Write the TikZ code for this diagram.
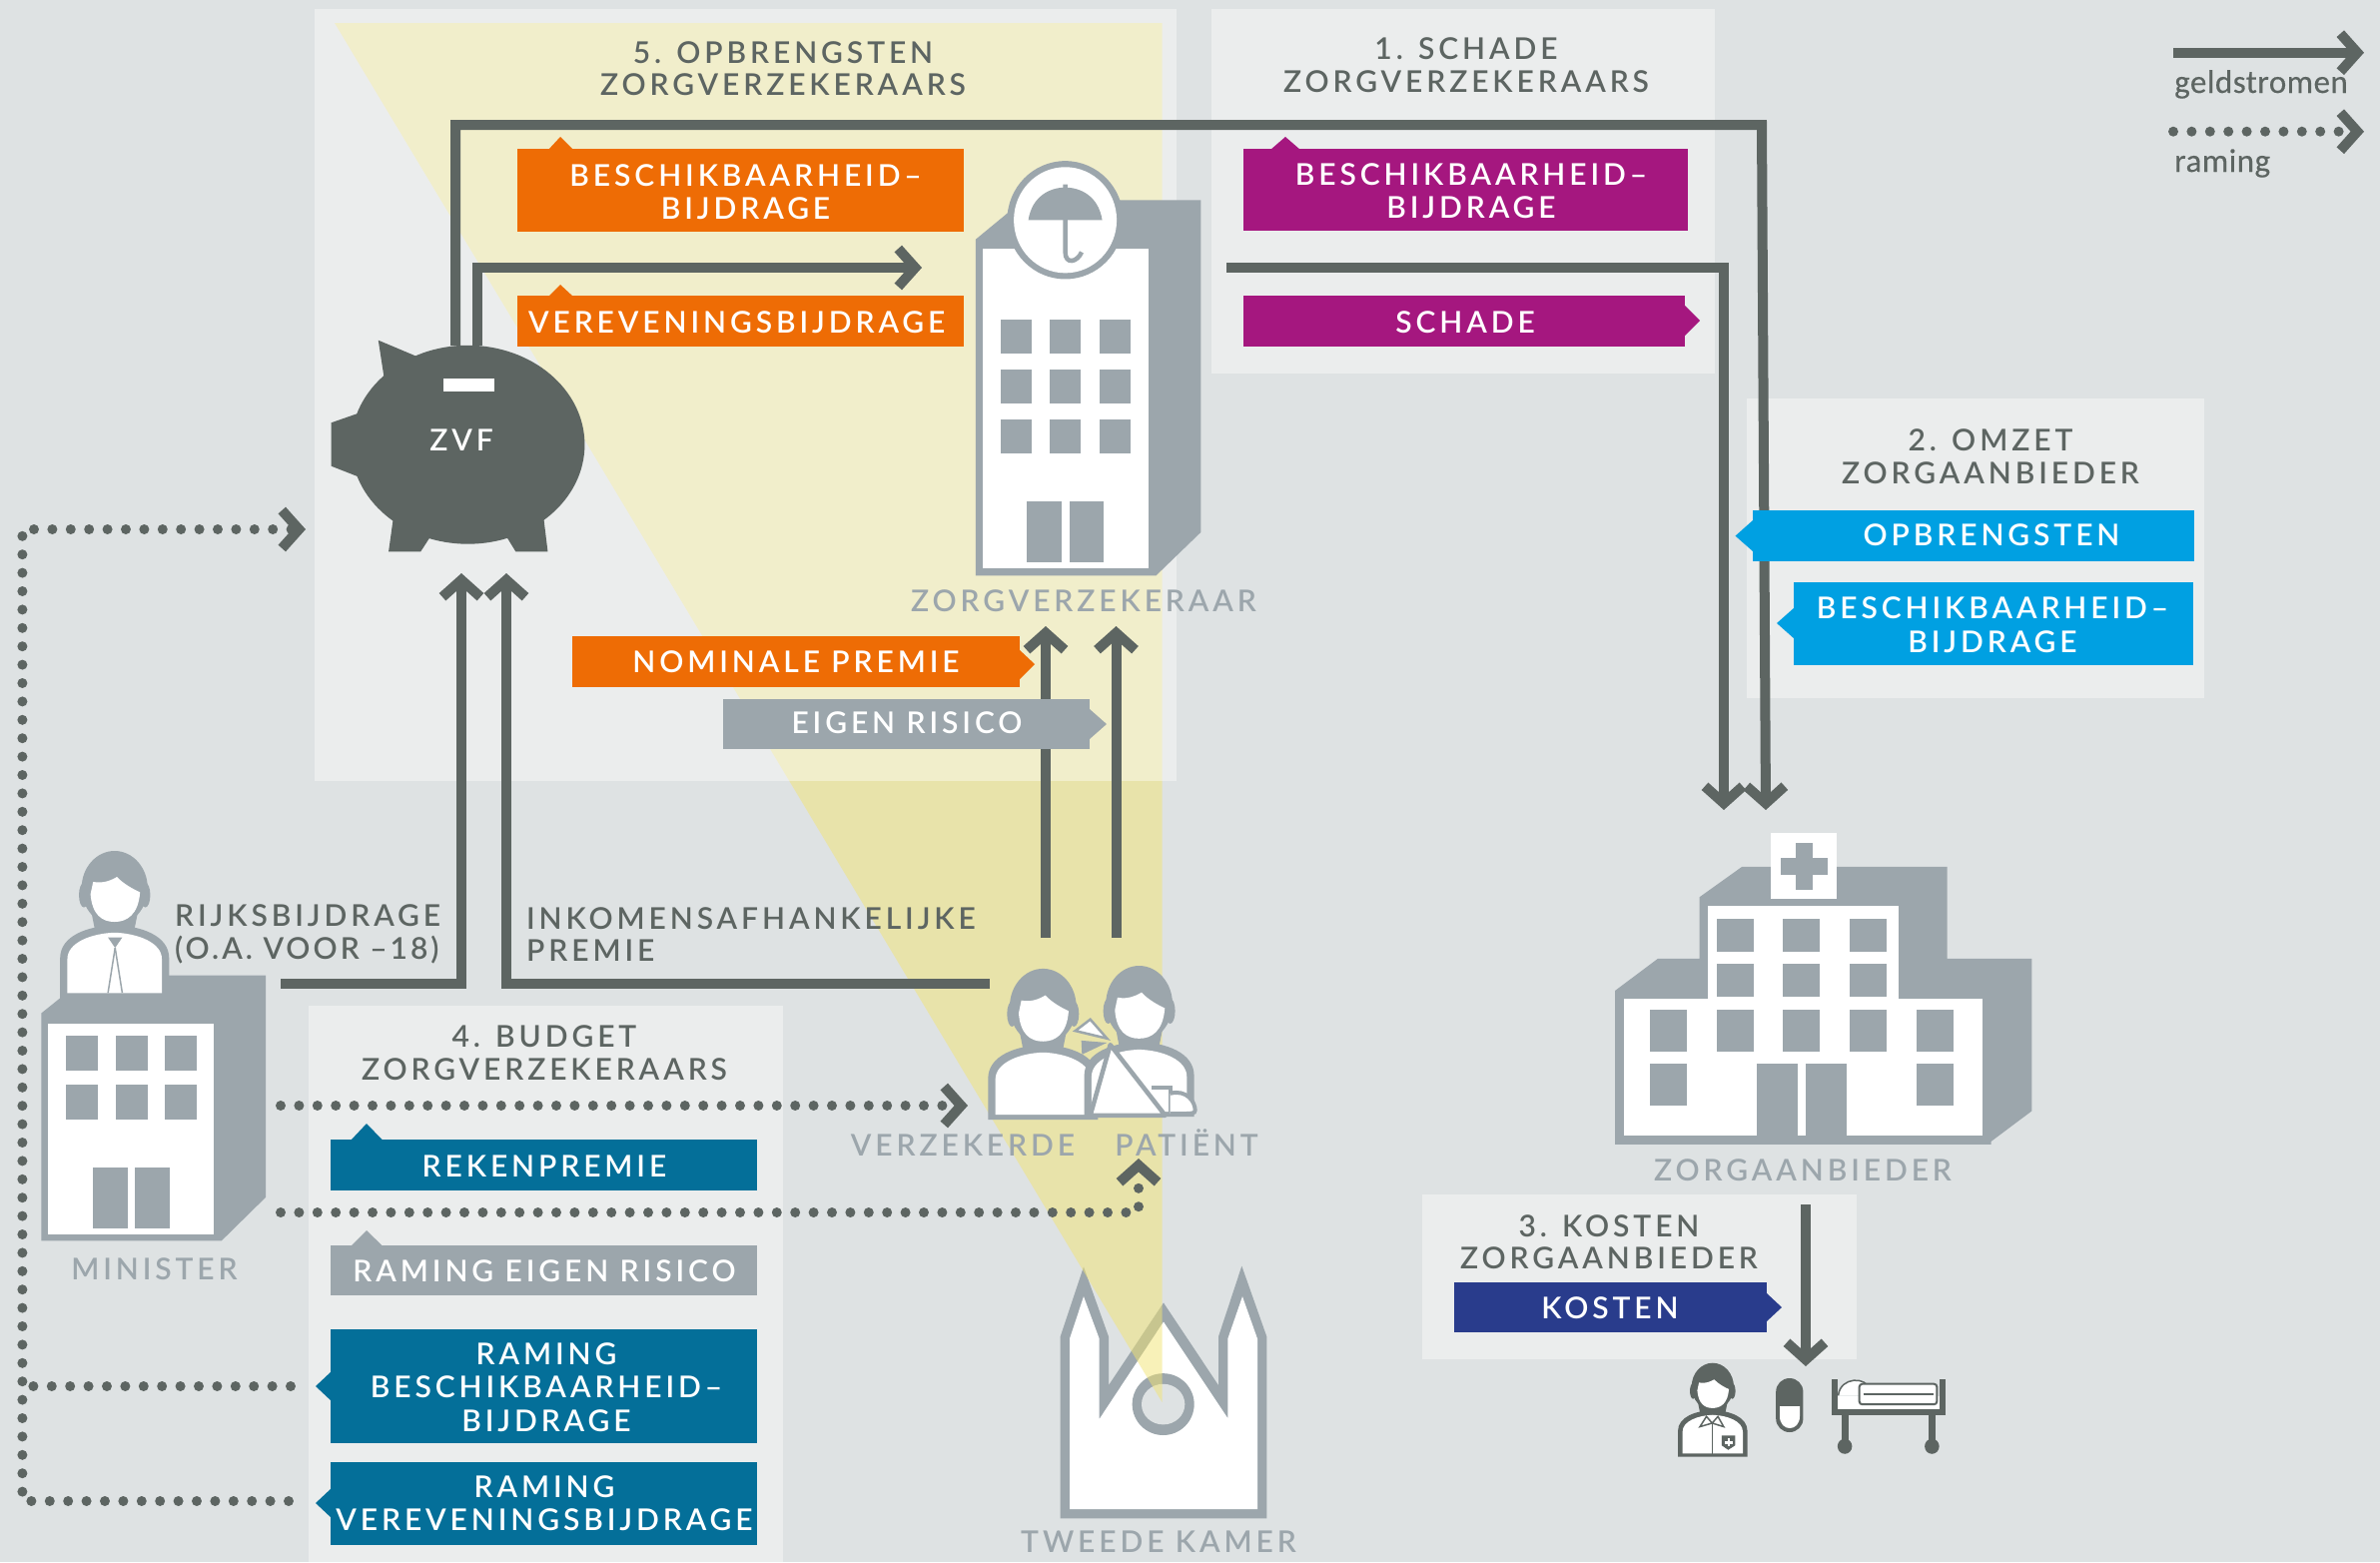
\documentclass[tikz,border=0pt]{standalone}
\usepackage{fontspec}
\usetikzlibrary{arrows.meta}
\newfontfamily\labfont[LetterSpace=13]{Lato Semibold}
\newfontfamily\labtight[LetterSpace=10]{Lato Semibold}
\newfontfamily\legfont[LetterSpace=1.5,FakeBold=0.3]{Carlito}
\definecolor{cBg}{HTML}{DEE2E3}
\definecolor{cDark}{HTML}{5D6562}
\definecolor{cGrey}{HTML}{9CA6AC}
\definecolor{cOrange}{HTML}{EE6C05}
\definecolor{cPurple}{HTML}{A5177F}
\definecolor{cCyan}{HTML}{00A0E2}
\definecolor{cTeal}{HTML}{046F99}
\definecolor{cNavy}{HTML}{293C8C}
\definecolor{cYellow}{HTML}{F2E473}
\definecolor{cVeil}{HTML}{FFFEFB}
\tikzset{
  panel/.style={fill=cVeil,fill opacity=.42},
  tagtext/.style={text=white,font=\labfont\fontsize{30}{33.5}\selectfont,align=center,inner sep=0pt,yshift=-1pt},
  title/.style={text=cDark,font=\labfont\fontsize{30}{32.5}\selectfont,align=center,inner sep=0pt},
  iconlabel/.style={text=cGrey,font=\labfont\fontsize{30}{33}\selectfont,inner sep=0pt,text height=21.5pt,text depth=0pt},
  flowlabel/.style={text=cDark,font=\labfont\fontsize{30}{32.5}\selectfont,align=left,inner sep=0pt,anchor=west},
  legendlabel/.style={text=cDark,font=\legfont\fontsize{33}{36}\selectfont,inner sep=0pt,anchor=base west},
  gtip/.style={-{Straight Barb[length=17pt,width=38pt,line width=10pt]}},
  money/.style={draw=cDark,line width=10pt,line join=miter},
  estimate/.style={draw=cDark,line width=10pt,line cap=round,dash pattern=on 0pt off 18.4pt},
  zA/.style={shift={(300pt,0pt)},x=.606pt,y=-.51pt},
  zB/.style={shift={(0pt,-820pt)},x=.51pt,y=-.4745pt},
  zC/.style={shift={(800pt,-900pt)},x=.33333pt,y=-.4235pt},
  zD/.style={shift={(1500pt,-800pt)},x=.3827pt,y=-.4464pt}
}
\newcommand\tagbox[6]{\fill[#2] (#3) rectangle (#4); \node[tagtext] (#1) at (#5) {#6};}
% person icon, local box 330 x 357: #1 x0, #2 y0, #3 sx, #4 sy, #5 colour
\newcommand\personicon[5]{%
\begin{scope}[shift={(#1pt,-#2pt)},x=#3pt,y=-#4pt]
\fill[#5] (0,357) -- (0,260) .. controls (0,205) and (85,182) .. (165,180) .. controls (245,182) and (330,205) .. (330,260) -- (330,357) -- cycle;
\fill[white] (22,345) -- (22,262) .. controls (22,222) and (95,200) .. (165,198) .. controls (235,200) and (308,222) .. (308,262) -- (308,345) -- cycle;
\fill[#5] (165,90) ellipse [x radius=100,y radius=90];
\fill[#5] (72,107) ellipse [x radius=15,y radius=30];
\fill[#5] (258,107) ellipse [x radius=15,y radius=30];
\fill[#5] (85,110) -- (245,110) -- (225,190) -- (105,190) -- cycle;
\fill[white] (92,105) -- (100,75) .. controls (132,80) and (157,70) .. (172,63) .. controls (192,80) and (222,93) .. (242,100) .. controls (237,155) and (202,172) .. (165,172) .. controls (127,172) and (97,155) .. (92,105) -- cycle;
\end{scope}}
\begin{document}
\begin{tikzpicture}[x=1pt,y=-1pt]
\useasboundingbox (0,0) rectangle (2383,1564);
\fill[cBg] (0,0) rectangle (2383,1564);

% Tweede Kamer (under the yellow beam)
\begin{scope}[zC]
\fill[cGrey] (785,1465) -- (785,1035) -- (855,870) -- (930,1035) -- (930,1150) -- (1095,955) -- (1260,1150) -- (1260,1035) -- (1330,868) -- (1405,1035) -- (1405,1465) -- cycle;
\fill[white] (813,1443) -- (813,1040) -- (855,940) -- (902,1040) -- (902,1230) -- (1095,1000) -- (1288,1228) -- (1288,1040) -- (1332,940) -- (1377,1040) -- (1377,1443) -- cycle;
\fill[cGrey] (1094,1195) ellipse [x radius=93,y radius=73];
\fill[cBg] (1094,1195) ellipse [x radius=65,y radius=48];
\end{scope}

% beam
\fill[cYellow,opacity=.5] (335,23) -- (1163.5,23) -- (1163.5,1404) -- cycle;

% panels
\fill[panel] (314.5,9) rectangle (1177.6,782);
\fill[panel] (1213,9) rectangle (1717,374);
\fill[panel] (1749,399) rectangle (2207,699);
\fill[panel] (1424,1196) rectangle (1859,1361);
\fill[panel] (309,1006.5) rectangle (784,1564);

% connector ends
\coordinate (m1) at (456,346);
\coordinate (m1a) at (456,125);
\coordinate (m1b) at (1764,125);
\coordinate (m1c) at (1768,811);
\coordinate (m2) at (478,346);
\coordinate (m2a) at (478,268);
\coordinate (m2b) at (923,268);
\coordinate (m3) at (1228,268);
\coordinate (m3a) at (1726,268);
\coordinate (m3b) at (1726,811);
\coordinate (m4) at (281,985);
\coordinate (m4a) at (462,985);
\coordinate (m4b) at (462,574);
\coordinate (m5) at (991,985);
\coordinate (m5a) at (507,985);
\coordinate (m5b) at (507,574);
\coordinate (m6) at (1047,939);
\coordinate (m6b) at (1047,627);
\coordinate (m7) at (1117.5,939);
\coordinate (m7b) at (1117.5,627);
\coordinate (m8) at (1808,1206);
\coordinate (m8b) at (1808,1368);
\coordinate (e1) at (281,1107);
\coordinate (e1b) at (969,1107);
\coordinate (e2) at (281,1214);
\coordinate (e2a) at (1140,1214);
\coordinate (e2b) at (1140,1160);
\coordinate (e3) at (289,1503);
\coordinate (e3a) at (22.4,1503);
\coordinate (e3b) at (22.4,530);
\coordinate (e3c) at (306,530);
\coordinate (e4) at (291,1388);
\coordinate (e4a) at (22.4,1388);
\coordinate (l1) at (2176,52.7);
\coordinate (l1b) at (2367,52.7);
\coordinate (l2) at (2176,131.7);
\coordinate (l2b) at (2367,131.7);

% connectors
\draw[money,gtip] (m1) -- (m1a) -- (m1b) -- (m1c);
\draw[money,gtip] (m2) -- (m2a) -- (m2b);
\draw[money,gtip] (m3) -- (m3a) -- (m3b);
\draw[money,gtip] (m4) -- (m4a) -- (m4b);
\draw[money,gtip] (m5) -- (m5a) -- (m5b);
\draw[money,gtip] (m6) -- (m6b);
\draw[money,gtip] (m7) -- (m7b);
\draw[money,gtip] (m8) -- (m8b);
\draw[estimate,gtip] (e1) -- (e1b);
\draw[estimate,gtip] (e2) -- (e2a) -- (e2b);
\draw[estimate,gtip] (e3) -- (e3a) -- (e3b) -- (e3c);
\draw[estimate] (e4) -- (e4a);
\draw[money,gtip] (l1) -- (l1b);
\draw[estimate,gtip] (l2) -- (l2b);

% titles
\node[title] (t5) at (784,68.5) {5. OPBRENGSTEN\\ZORGVERZEKERAARS};
\node[title] (t1) at (1468,65) {1. SCHADE\\ZORGVERZEKERAARS};
\node[title] (t2) at (1993,457) {2. OMZET\\ZORGAANBIEDER};
\node[title] (t3) at (1611,1243.5) {3. KOSTEN\\ZORGAANBIEDER};
\node[title] (t4) at (545,1054) {4. BUDGET\\ZORGVERZEKERAARS};

% orange tags
\fill[cOrange] (549,150) -- (561,137) -- (574,150) -- cycle;
\tagbox{a1}{cOrange}{518,149}{965,232}{746.6,191}{BESCHIKBAARHEID–\\BIJDRAGE}
\fill[cOrange] (549,297) -- (561,285) -- (574,297) -- cycle;
\tagbox{a2}{cOrange}{518,296}{965,347}{737.7,322}{VEREVENINGSBIJDRAGE}
\fill[cOrange] (1020,650) -- (1036,665) -- (1020,681) -- cycle;
\tagbox{a3}{cOrange}{573,637}{1020.5,687.5}{797,662}{NOMINALE PREMIE}
\fill[cGrey] (1091,710) -- (1108,725) -- (1091,740) -- cycle;
\tagbox{a4}{cGrey}{723.6,700}{1091,750}{908,723}{EIGEN RISICO}

% purple tags
\fill[cPurple] (1272,150) -- (1287,137) -- (1302,150) -- cycle;
\tagbox{b1}{cPurple}{1245,149}{1690,231}{1473,190}{BESCHIKBAARHEID–\\BIJDRAGE}
\fill[cPurple] (1687,306) -- (1702,321) -- (1687,336) -- cycle;
\tagbox{b2}{cPurple}{1245,296}{1687,347}{1467,322}{SCHADE}

% cyan tags
\fill[cCyan] (1755,521) -- (1737.5,536.6) -- (1755,552) -- cycle;
\tagbox{c1}{cCyan}{1754.5,511}{2197,562}{1994,535}{OPBRENGSTEN}
\fill[cCyan] (1797,608) -- (1779,624) -- (1797,640) -- cycle;
\tagbox{c2}{cCyan}{1796,583}{2196,666}{1995,624.5}{BESCHIKBAARHEID–\\BIJDRAGE}

% navy tag
\fill[cNavy] (1769,1295) -- (1784,1309) -- (1769,1323) -- cycle;
\tagbox{d1}{cNavy}{1456,1283.5}{1769,1334}{1612,1309}{KOSTEN}

% teal tags
\fill[cTeal] (351,1142) -- (367,1125) -- (383.5,1142) -- cycle;
\tagbox{f1}{cTeal}{331,1141}{758,1191.5}{545,1167}{REKENPREMIE}
\fill[cGrey] (351,1248) -- (367,1232) -- (383.5,1248) -- cycle;
\tagbox{f2}{cGrey}{331,1247}{758,1297}{545,1272}{RAMING EIGEN RISICO}
\fill[cTeal] (332,1373) -- (316,1388) -- (332,1403) -- cycle;
\tagbox{f3}{cTeal}{331,1331}{758,1444.5}{547,1388}{RAMING\\BESCHIKBAARHEID–\\BIJDRAGE}
\fill[cTeal] (332,1490) -- (316,1505) -- (332,1520) -- cycle;
\tagbox{f4}{cTeal}{331,1464}{758,1546.5}{545,1504}{RAMING\\VEREVENINGSBIJDRAGE}

% piggy bank
\begin{scope}[zA]
\fill[cDark] (278,873) ellipse [x radius=193,y radius=195];
\fill[cDark] (130,668) -- (200,703) -- (140,745) -- cycle;
\fill[cDark] (52,830) -- (110,806) -- (110,942) -- (52,915) -- cycle;
\fill[cDark] (155,1015) -- (147,1083) -- (200,1083) -- (218,1050) -- cycle;
\fill[cDark] (340,1050) -- (357,1083) -- (410,1083) -- (403,1015) -- cycle;
\fill[white] (238,743) rectangle (322,768);
\end{scope}
\node[tagtext] (zvf) at (462,440) {ZVF};

% zorgverzekeraar building
\begin{scope}[zA]
\fill[cGrey] (1117,1130) -- (1117,470) -- (1170,418) -- (1200,393) -- (1489,393) -- (1489,1045) -- (1415,1130) -- cycle;
\fill[white] (1129,488) rectangle (1403,1115);
\foreach \wx in {1158,1239,1321} \foreach \wy in {627,725,823}
  \fill[cGrey] (\wx,\wy) rectangle ++(52,68);
\fill[cGrey] (1202,984) rectangle (1259,1104);
\fill[cGrey] (1272,984) rectangle (1329,1104);
\fill[cGrey] (1265,432) ellipse [x radius=96,y radius=116];
\fill[white] (1265,432) ellipse [x radius=85,y radius=104];
\fill[cGrey] (1204,432) .. controls (1210,385) and (1240,368) .. (1265,368) .. controls (1290,368) and (1320,385) .. (1326,432) -- cycle;
\draw[cGrey,line width=4.5pt] (1265,362) -- (1265,495) .. controls (1265,520) and (1285,515) .. (1292,495);
\end{scope}
\node[iconlabel] (zv) at (1085,602) {ZORGVERZEKERAAR};

% minister
\begin{scope}[zB]
\fill[cGrey] (81,890) -- (81,410) -- (118,378) -- (118,330) -- (522,330) -- (522,798) -- (435,890) -- cycle;
\fill[white] (95,432) rectangle (420,877);
\foreach \wx in {129,227,323} \foreach \wy in {457,561}
  \fill[cGrey] (\wx,\wy) rectangle ++(63,73);
\fill[cGrey] (182,736) rectangle (251,865);
\fill[cGrey] (265,736) rectangle (333,865);
\end{scope}
\personicon{60.2}{852}{.3306}{.4129}{cGrey}
\begin{scope}[zB]
\fill[cGrey] (212,250) -- (240,250) -- (226,272) -- cycle;
\draw[cGrey,line width=1.5pt] (226,272) -- (212,367);
\draw[cGrey,line width=1.5pt] (226,272) -- (240,367);
\end{scope}
\node[iconlabel] (mi) at (154.5,1271) {MINISTER};

% insured and patient
\personicon{989.3}{969.9}{.33333}{.4235}{cGrey}
\personicon{1085.6}{967}{.33333}{.4235}{cGrey}
\begin{scope}[zC]
\draw[cGrey,line width=4.5pt,fill=white,line join=round] (935,345) -- (1100,512) -- (875,512) -- cycle;
\draw[cGrey,line width=2.5pt,fill=white] (830,312) -- (875,285) -- (925,330) -- cycle;
\fill[cGrey] (848,335) -- (925,340) -- (850,368) -- cycle;
\draw[cGrey,line width=4pt] (1060,447) -- (1115,447) -- (1115,512);
\draw[cGrey,line width=4pt,fill=white] (1115,460) .. controls (1165,450) and (1190,480) .. (1190,500) .. controls (1190,508) and (1180,508) .. (1115,508);
\end{scope}
\node[iconlabel] (vz) at (964,1147) {VERZEKERDE};
\node[iconlabel] (pa) at (1188,1147) {PATIËNT};
\node[iconlabel] (tk) at (1160,1544) {TWEEDE KAMER};

% hospital
\begin{scope}[zD]
\fill[cGrey] (306,775) -- (306,430) -- (418,358) -- (527,358) -- (527,220) -- (638,152) -- (1175,152) -- (1175,358) -- (1396,358) -- (1396,700) -- (1290,768) -- (1290,775) -- cycle;
\fill[white] (328,448) rectangle (1268,756);
\fill[white] (548,240) rectangle (1049,448);
\foreach \wx in {571,744,919} \foreach \wy in {269,370}
  \fill[cGrey] (\wx,\wy) rectangle ++(97,74);
\foreach \wx in {396,571,744,919,1095}
  \fill[cGrey] (\wx,473) rectangle ++(97,94);
\foreach \wx in {396,1095}
  \fill[cGrey] (\wx,594) rectangle ++(97,94);
\fill[cGrey] (677,594) rectangle (783,756);
\fill[cGrey] (805,594) rectangle (911,756);
\fill[white] (713,76) rectangle (885,223);
\fill[cGrey] (778,99) rectangle (822,204);
\fill[cGrey] (739,132) rectangle (862,170);
\end{scope}
\node[iconlabel] (za) at (1805,1172) {ZORGAANBIEDER};

% doctor
\personicon{1680}{1364.7}{.211}{.2627}{cDark}
\begin{scope}[zD]
\draw[cDark,line width=1.5pt,fill=white] (528,1408) -- (545,1385) -- (560,1400) -- (575,1385) -- (590,1408) -- (560,1400) -- cycle;
\draw[cDark,line width=1.5pt] (560,1400) -- (560,1470);
\fill[cDark] (585,1428) -- (620,1428) -- (620,1450) -- (602,1460) -- (585,1450) -- cycle;
\fill[white] (592,1440) rectangle (613,1446);
\fill[white] (600,1434) rectangle (605,1452);
\end{scope}
% pill
\fill[cDark,rounded corners=13.5pt] (1778.2,1380) rectangle (1805.4,1434);
\fill[white] (1782,1408) -- (1802,1408) -- (1802,1418) .. controls (1802,1434) and (1782,1434) .. (1782,1418) -- cycle;
% bed
\begin{scope}[zD]
\fill[white] (888,1340) rectangle (1155,1370);
\draw[cDark,line width=1.5pt,fill=white] (890,1338) .. controls (895,1295) and (965,1295) .. (972,1325) -- (972,1338);
\draw[cDark,line width=2pt,fill=white,rounded corners=3pt] (945,1312) rectangle (1148,1358);
\draw[cDark,line width=1.5pt] (955,1335) -- (1138,1335);
\fill[cDark] (872,1302) rectangle (888,1380);
\fill[cDark] (1155,1302) rectangle (1170,1380);
\fill[cDark] (872,1368) rectangle (1170,1382);
\fill[cDark] (898,1380) rectangle (916,1445);
\fill[cDark] (1126,1380) rectangle (1144,1445);
\fill[cDark] (907,1452) ellipse [x radius=19,y radius=17];
\fill[cDark] (1135,1452) ellipse [x radius=19,y radius=17];
\end{scope}

% flow labels
\node[flowlabel] (rb) at (175,935.5) {RIJKSBIJDRAGE\\{\labtight (O.A. VOOR –18)}};
\node[flowlabel] (ip) at (527,935.5) {INKOMENSAFHANKELIJKE\\PREMIE};

% legend
\node[legendlabel] (lg) at (2177,93) {geldstromen};
\node[legendlabel] (lr) at (2177,172) {raming};
\end{tikzpicture}
\end{document}
